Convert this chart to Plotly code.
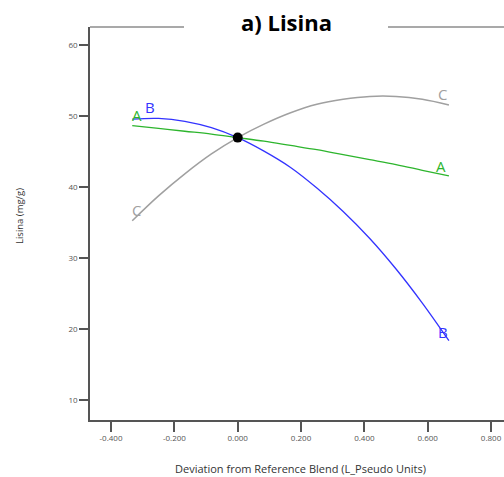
import plotly.graph_objects as go

# Data
x_vals = [-0.333, -0.25, -0.167, -0.083, 0.0, 0.083, 0.167, 0.25, 0.333, 0.417, 0.5, 0.583, 0.667]
a_vals = [48.7, 48.3, 47.9, 47.5, 47.0, 46.5, 45.9, 45.3, 44.6, 43.9, 43.2, 42.4, 41.6]
b_vals = [49.6, 49.7, 49.3, 48.4, 47.0, 45.1, 42.8, 39.9, 36.6, 32.8, 28.5, 23.7, 18.4]
c_vals = [35.3, 38.8, 41.9, 44.7, 47.0, 48.9, 50.5, 51.7, 52.4, 52.8, 52.8, 52.4, 51.6]
ref_x = [0.0]
ref_y = [47.0]

x_ticks = [-0.4, -0.2, 0.0, 0.2, 0.4, 0.6, 0.8]
x_tick_text = ["-0.400", "-0.200", "0.000", "0.200", "0.400", "0.600", "0.800"]
y_ticks = [10, 20, 30, 40, 50, 60]

GREEN = "#2db52d"
BLUE = "#3333ff"
GRAY = "#a0a0a0"

fig = go.Figure()
fig.add_trace(go.Scatter(x=x_vals, y=c_vals, mode="lines",
                         line=dict(color=GRAY, width=1.5, shape="spline"), showlegend=False))
fig.add_trace(go.Scatter(x=x_vals, y=a_vals, mode="lines",
                         line=dict(color=GREEN, width=1.3, shape="spline"), showlegend=False))
fig.add_trace(go.Scatter(x=x_vals, y=b_vals, mode="lines",
                         line=dict(color=BLUE, width=1.3, shape="spline"), showlegend=False))
fig.add_trace(go.Scatter(x=ref_x, y=ref_y, mode="markers",
                         marker=dict(color="black", size=10), showlegend=False))

labels = [
    ("A", -0.319, 50.2, GREEN),
    ("B", -0.277, 51.3, BLUE),
    ("C", -0.319, 36.8, GRAY),
    ("C", 0.648, 53.1, GRAY),
    ("A", 0.642, 43.0, GREEN),
    ("B", 0.648, 19.6, BLUE),
]
for t, lx, ly, col in labels:
    fig.add_annotation(x=lx, y=ly, text=t, showarrow=False,
                       font=dict(family="Open Sans", size=15, color=col))

font_fam = "Open Sans"
fig.update_layout(
    width=504, height=477,
    margin=dict(l=90, r=0, t=27, b=57),
    paper_bgcolor="white", plot_bgcolor="white",
    font=dict(family=font_fam),
    xaxis=dict(range=[-0.4664, 0.8409], tickvals=x_ticks, ticktext=x_tick_text,
               showgrid=False, zeroline=False, showline=True, linecolor="#555555",
               linewidth=1.5, ticks="outside", ticklen=10, tickcolor="#555555",
               tickwidth=1.5, tickfont=dict(size=8, color="#555555", family=font_fam)),
    yaxis=dict(range=[7.23, 62.58], tickvals=y_ticks,
               showgrid=False, zeroline=False, showline=True, linecolor="#555555",
               linewidth=1.5, ticks="outside", ticklen=9, tickcolor="#555555",
               tickwidth=1.5, tickfont=dict(size=8, color="#555555", family=font_fam)),
)

# top frame line with a gap for the title
fig.add_shape(type="line", xref="paper", yref="paper", x0=0, x1=(184 - 90) / 414, y0=1, y1=1,
              line=dict(color="#555555", width=1.2))
fig.add_shape(type="line", xref="paper", yref="paper", x0=(388 - 90) / 414, x1=1, y0=1, y1=1,
              line=dict(color="#555555", width=1.2))

fig.add_annotation(xref="paper", yref="paper", x=(286 - 90) / 414, y=(420 - 22) / 393,
                   text="<b>a) Lisina</b>", showarrow=False, yanchor="middle",
                   font=dict(family=font_fam, size=22, color="black"))
fig.add_annotation(xref="paper", yref="paper", x=(300 - 90) / 414, y=-(468 - 420) / 393,
                   text="Deviation from Reference Blend (L_Pseudo Units)", showarrow=False,
                   yanchor="middle", font=dict(family=font_fam, size=11, color="#333333"))
fig.add_annotation(xref="paper", yref="paper", x=-(90 - 19) / 414, y=(420 - 216) / 393,
                   text="Lisina (mg/g)", showarrow=False, textangle=-90,
                   xanchor="center", yanchor="middle",
                   font=dict(family=font_fam, size=9.5, color="#333333"))

fig.write_html("out.html")
